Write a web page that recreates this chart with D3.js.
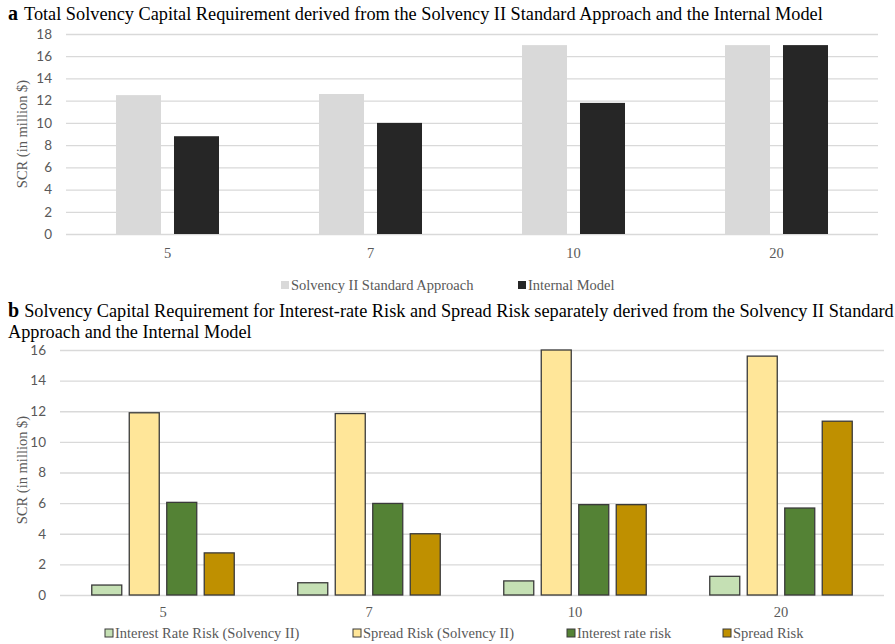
<!DOCTYPE html>
<html>
<head>
<meta charset="utf-8">
<script src="https://cdn.jsdelivr.net/npm/d3@7"></script>
<style>
  body { margin: 0; background: #fff; }
</style>
</head>
<body>
<div id="container"></div>
<script>
  // data
  const years = ['5', '7', '10', '20']

  const seriesA = ['Solvency II Standard Approach', 'Internal Model']
  const standardApproach = [12.5, 12.6, 17.0, 17.0]
  const internalModel = [8.8, 10.0, 11.8, 17.0]
  const ticksA = [0, 2, 4, 6, 8, 10, 12, 14, 16, 18]

  const seriesB = ['Interest Rate Risk (Solvency II)', 'Spread Risk (Solvency II)', 'Interest rate risk', 'Spread Risk']
  const irrSolvency = [0.65, 0.8, 0.92, 1.22]
  const spreadSolvency = [11.9, 11.85, 16.0, 15.6]
  const irrInternal = [6.05, 5.98, 5.9, 5.68]
  const spreadInternal = [2.75, 4.0, 5.9, 11.35]
  const ticksB = [0, 2, 4, 6, 8, 10, 12, 14, 16]

  const width = 895
  const height = 644
  const serif = '"Liberation Serif", "Times New Roman", serif'
  const sans = 'Lato, "Open Sans", sans-serif'

  const svg = d3.select('#container')
    .append('svg')
    .attr('width', width)
    .attr('height', height)
    .style('background', '#ffffff')

  // helper for one grouped bar panel
  function drawPanel(opt) {
    const xScale = d3.scaleBand()
      .domain(years)
      .range([opt.left, opt.right])

    const inner = d3.scaleBand()
      .domain(opt.series)
      .range([0, xScale.bandwidth()])
      .paddingInner(opt.padIn)
      .paddingOuter(opt.padOut)

    const yScale = d3.scaleLinear()
      .domain([0, opt.ticks[opt.ticks.length - 1]])
      .range([opt.bottom, opt.top])

    // grid lines
    svg.append('g')
      .attr('transform', `translate(${opt.left}, 0)`)
      .call(d3.axisLeft(yScale)
        .tickValues(opt.ticks)
        .tickSize(-(opt.right - opt.left))
        .tickFormat(''))
      .call(g => g.select('.domain').remove())
      .call(g => g.selectAll('line').attr('stroke', '#d9d9d9').attr('stroke-width', 1.3))

    // y tick labels
    svg.append('g')
      .attr('transform', `translate(${opt.left - 8}, 0)`)
      .call(d3.axisLeft(yScale).tickValues(opt.ticks).tickSize(0).tickPadding(6))
      .call(g => g.select('.domain').remove())
      .selectAll('text')
      .attr('fill', '#595959')
      .style('font-family', sans)
      .style('font-size', '13.5px')

    // x labels
    svg.append('g')
      .attr('transform', `translate(0, ${opt.bottom})`)
      .call(d3.axisBottom(xScale).tickSize(0).tickPadding(opt.xPad))
      .call(g => g.select('.domain').remove())
      .selectAll('text')
      .attr('fill', '#595959')
      .style('font-family', serif)
      .style('font-size', '14.5px')

    const rows = years.map((y, i) => ({ year: y, vals: opt.values.map(v => v[i]) }))

    const groups = svg.selectAll(null)
      .data(rows)
      .enter()
      .append('g')
      .attr('transform', d => `translate(${xScale(d.year)}, 0)`)

    groups.selectAll('rect')
      .data(d => d.vals.map((v, k) => ({ s: opt.series[k], v: v, k: k })))
      .enter()
      .append('rect')
      .attr('x', d => inner(d.s))
      .attr('y', d => yScale(d.v))
      .attr('width', inner.bandwidth())
      .attr('height', d => yScale(0) - yScale(d.v))
      .attr('fill', d => opt.colors[d.k])
      .attr('stroke', opt.stroke)
      .attr('stroke-width', opt.strokeWidth)

    // y label
    svg.append('text')
      .attr('transform', `translate(${opt.labelX}, ${opt.labelY}) rotate(-90)`)
      .attr('text-anchor', 'middle')
      .attr('fill', '#595959')
      .style('font-family', serif)
      .style('font-size', '14.5px')
      .text('SCR (in million $)')

    // legend
    const leg = svg.selectAll(null)
      .data(opt.series)
      .enter()
      .append('g')
      .attr('transform', (d, i) => `translate(${opt.legendX[i]}, ${opt.legendY})`)

    leg.append('rect')
      .attr('x', 0)
      .attr('y', -9)
      .attr('width', 8)
      .attr('height', 8)
      .attr('fill', (d, i) => opt.colors[i])
      .attr('stroke', opt.stroke)
      .attr('stroke-width', opt.strokeWidth ? 1 : 0)

    leg.append('text')
      .attr('x', 10)
      .attr('y', 0)
      .attr('fill', '#595959')
      .style('font-family', serif)
      .style('font-size', '14.5px')
      .text(d => d)
  }

  drawPanel({
    series: seriesA,
    values: [standardApproach, internalModel],
    colors: ['#d9d9d9', '#262626'],
    stroke: 'none',
    strokeWidth: 0,
    ticks: ticksA,
    left: 66, right: 878, top: 34, bottom: 234,
    padIn: 0.224, padOut: 0.862,
    xPad: 14,
    labelX: 27, labelY: 134,
    legendX: [281, 518],
    legendY: 290
  })

  drawPanel({
    series: seriesB,
    values: [irrSolvency, spreadSolvency, irrInternal, spreadInternal],
    colors: ['#c5e0b4', '#ffe699', '#548235', '#bf9000'],
    stroke: '#3a3a3a',
    strokeWidth: 1.3,
    ticks: ticksB,
    left: 60, right: 884, top: 350, bottom: 595,
    padIn: 0.2, padOut: 0.847,
    xPad: 12,
    labelX: 27, labelY: 470,
    legendX: [105, 353, 567, 723],
    legendY: 638
  })

  // titles
  const titleA = svg.append('text')
    .attr('x', 8)
    .attr('y', 20)
    .style('font-family', serif)
    .style('font-size', '18.3px')
    .attr('fill', '#000')
  titleA.append('tspan').style('font-weight', 'bold').style('font-size', '20px').text('a')
  titleA.append('tspan').attr('dx', 6)
    .text('Total Solvency Capital Requirement derived from the Solvency II Standard Approach and the Internal Model')

  const titleB = svg.append('text')
    .attr('x', 8)
    .attr('y', 317)
    .style('font-family', serif)
    .style('font-size', '18.3px')
    .attr('fill', '#000')
  titleB.append('tspan').style('font-weight', 'bold').style('font-size', '20px').text('b')
  titleB.append('tspan').attr('dx', 5)
    .text('Solvency Capital Requirement for Interest-rate Risk and Spread Risk separately derived from the Solvency II Standard')

  svg.append('text')
    .attr('x', 8)
    .attr('y', 338)
    .style('font-family', serif)
    .style('font-size', '18.3px')
    .attr('fill', '#000')
    .text('Approach and the Internal Model')
</script>
</body>
</html>
